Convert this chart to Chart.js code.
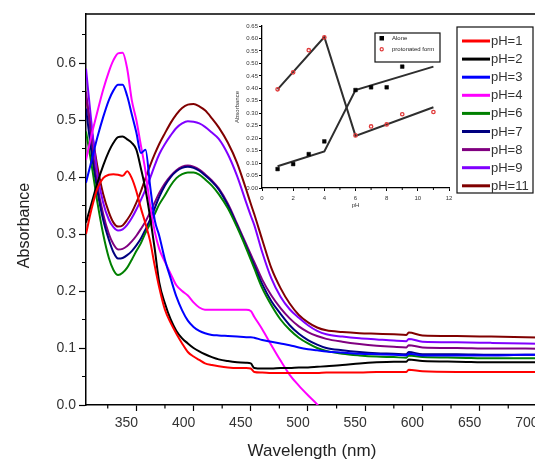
<!DOCTYPE html>
<html>
<head>
<meta charset="utf-8">
<script src="https://cdn.jsdelivr.net/npm/chart.js@4/dist/chart.umd.min.js"></script>
<style>
  html, body { margin: 0; padding: 0; background: #fff; overflow: hidden; }
  #wrap { position: relative; width: 538px; height: 463px; }
  #main { position: absolute; left: 0; top: 0; }
  #inset { position: absolute; left: 232px; top: 20px; }
</style>
</head>
<body>
<div id="wrap">
  <canvas id="main" width="538" height="463"></canvas>
  <canvas id="inset" width="225" height="198"></canvas>
</div>
<script>
// ---- UV-Vis spectra (absorbance vs wavelength, nm) ----
const wavelengths = [306,311,316,321,326,330,334,338,342,346,350,354,358,362,366,370,375,380,385,390,395,400,405,410,416,422,430,438,446,450,453,460,468,476,484,492,500,508,516,530,545,560,575,586,588,600,630,660,690,720];

const absPH1  = [0.300,0.345,0.380,0.398,0.404,0.405,0.404,0.402,0.410,0.398,0.375,0.345,0.318,0.288,0.245,0.206,0.167,0.144,0.125,0.108,0.093,0.085,0.079,0.073,0.070,0.068,0.066,0.065,0.065,0.064,0.058,0.057,0.056,0.056,0.056,0.056,0.056,0.056,0.057,0.057,0.057,0.058,0.058,0.058,0.062,0.059,0.058,0.058,0.058,0.058];
const absPH2  = [0.320,0.355,0.390,0.420,0.445,0.460,0.470,0.471,0.466,0.460,0.448,0.415,0.378,0.330,0.275,0.215,0.178,0.150,0.130,0.117,0.108,0.100,0.094,0.089,0.084,0.080,0.077,0.075,0.074,0.073,0.065,0.064,0.064,0.065,0.065,0.066,0.066,0.067,0.068,0.070,0.073,0.075,0.076,0.076,0.080,0.077,0.076,0.075,0.075,0.075];
const absPH3  = [0.390,0.430,0.470,0.505,0.535,0.552,0.562,0.562,0.542,0.510,0.478,0.442,0.448,0.385,0.325,0.297,0.255,0.222,0.190,0.166,0.148,0.137,0.130,0.126,0.123,0.122,0.121,0.120,0.119,0.119,0.118,0.114,0.111,0.108,0.105,0.101,0.098,0.096,0.094,0.092,0.090,0.089,0.088,0.087,0.090,0.087,0.087,0.087,0.088,0.088];
const absPH4  = [0.430,0.475,0.515,0.553,0.585,0.605,0.617,0.618,0.590,0.535,0.500,0.455,0.410,0.350,0.305,0.274,0.251,0.230,0.210,0.200,0.192,0.180,0.171,0.167,0.167,0.167,0.167,0.167,0.167,0.165,0.155,0.133,0.105,0.078,0.053,0.034,0.017,0.001,-0.020,-0.050,null,null,null,null,null,null,null,null,null,null];
const absPH6  = [0.480,0.420,0.355,0.300,0.258,0.237,0.228,0.232,0.241,0.255,0.270,0.284,0.302,0.318,0.335,0.352,0.368,0.385,0.398,0.405,0.408,0.408,0.404,0.396,0.385,0.370,0.345,0.312,0.275,0.255,0.240,0.205,0.175,0.150,0.132,0.118,0.108,0.100,0.095,0.090,0.087,0.085,0.084,0.083,0.087,0.084,0.083,0.082,0.082,0.082];
const absPH7  = [0.520,0.440,0.375,0.325,0.290,0.268,0.257,0.258,0.263,0.270,0.280,0.292,0.308,0.325,0.345,0.365,0.385,0.400,0.410,0.416,0.418,0.416,0.411,0.403,0.392,0.378,0.350,0.315,0.278,0.259,0.245,0.212,0.182,0.160,0.140,0.125,0.114,0.106,0.100,0.096,0.093,0.091,0.090,0.089,0.093,0.089,0.089,0.088,0.088,0.088];
const absPH8  = [0.550,0.460,0.385,0.335,0.300,0.282,0.273,0.274,0.279,0.287,0.297,0.309,0.322,0.338,0.355,0.372,0.389,0.402,0.412,0.418,0.420,0.418,0.413,0.405,0.394,0.380,0.353,0.318,0.282,0.264,0.251,0.220,0.192,0.170,0.152,0.138,0.128,0.121,0.116,0.111,0.107,0.104,0.102,0.101,0.105,0.101,0.100,0.099,0.099,0.098];
const absPH9  = [0.590,0.490,0.405,0.355,0.325,0.312,0.306,0.308,0.316,0.328,0.343,0.360,0.378,0.398,0.420,0.440,0.458,0.473,0.486,0.494,0.498,0.497,0.494,0.488,0.478,0.467,0.440,0.402,0.355,0.332,0.316,0.268,0.222,0.190,0.168,0.153,0.140,0.130,0.124,0.120,0.117,0.115,0.113,0.112,0.116,0.111,0.110,0.109,0.108,0.107];
const absPH11 = [0.540,0.480,0.418,0.370,0.338,0.320,0.313,0.315,0.325,0.338,0.355,0.375,0.398,0.420,0.440,0.458,0.477,0.495,0.510,0.521,0.527,0.528,0.524,0.517,0.503,0.487,0.460,0.425,0.378,0.353,0.335,0.290,0.240,0.205,0.178,0.158,0.145,0.136,0.131,0.128,0.126,0.125,0.124,0.123,0.127,0.122,0.121,0.120,0.119,0.118];

const seriesLabels = ['pH=1','pH=2','pH=3','pH=4','pH=6','pH=7','pH=8','pH=9','pH=11'];
const seriesValues = [absPH1, absPH2, absPH3, absPH4, absPH6, absPH7, absPH8, absPH9, absPH11];
const seriesColors = ['#ff0000','#000000','#0000ff','#ff00ff','#008000','#000080','#800080','#8000ff','#800000'];

const xTickValues = [350,400,450,500,550,600,650,700];
const xMinorTicks = [325,375,425,475,525,575,625,675];
const yTickValues = [0.0,0.1,0.2,0.3,0.4,0.5,0.6];
const yMinorTicks = [0.05,0.15,0.25,0.35,0.45,0.55,0.65];
const yAxisTitle = 'Absorbance';

// ---- inset: absorbance vs pH ----
const insetPHAlone  = [1,2,3,4,6,7,8,9];
const insetAbsAlone = [0.076,0.096,0.136,0.187,0.393,0.404,0.404,0.487];
const insetPHProt   = [1,2,3,4,6,7,8,9,11];
const insetAbsProt  = [0.396,0.464,0.553,0.604,0.211,0.247,0.255,0.296,0.305];
const fitPHAlone    = [1,4,6,11];
const fitAbsAlone   = [0.087,0.147,0.393,0.487];
const fitPHProt     = [1,4,6,11];
const fitAbsProt    = [0.396,0.606,0.209,0.324];
const insetXTicks   = [0,2,4,6,8,10,12];
const insetXMinor   = [1,3,5,7,9,11];
const insetYTicks   = [0,0.05,0.10,0.15,0.20,0.25,0.30,0.35,0.40,0.45,0.50,0.55,0.60,0.65];
const insetLabels   = ['Alone','protonated form'];

const FONT = "'Liberation Sans', Arial, Helvetica, sans-serif";
const pts = (xs, ys) => xs.map((x, i) => ({ x: x, y: ys[i] }));

// minor ticks, frame lines and the vertical axis title
const frameAndMinor = {
  id: 'frameAndMinor',
  afterDraw(chart) {
    const { ctx, chartArea: a, scales: { x, y } } = chart;
    ctx.save();
    ctx.strokeStyle = '#000';
    ctx.lineWidth = 1.2;
    ctx.beginPath();
    xMinorTicks.forEach(v => { const px = x.getPixelForValue(v); ctx.moveTo(px, a.bottom); ctx.lineTo(px, a.bottom + 3.5); });
    yMinorTicks.forEach(v => { const py = y.getPixelForValue(v); ctx.moveTo(a.left, py); ctx.lineTo(a.left - 4, py); });
    ctx.stroke();
    ctx.lineWidth = 1.5;
    ctx.beginPath();
    ctx.moveTo(a.left, a.top); ctx.lineTo(a.right, a.top);
    ctx.moveTo(a.right - 0.75, a.top); ctx.lineTo(a.right - 0.75, a.bottom);
    ctx.stroke();
    // axis title, sitting a little below the middle of the axis
    ctx.translate(25, y.getPixelForValue(0.315));
    ctx.rotate(-Math.PI / 2);
    ctx.font = '16px ' + FONT;
    ctx.fillStyle = '#222';
    ctx.textAlign = 'center';
    ctx.textBaseline = 'middle';
    ctx.fillText(yAxisTitle, 0, 0);
    ctx.restore();
  }
};

// boxed legend in the upper right corner
const boxLegend = {
  id: 'boxLegend',
  afterDraw(chart) {
    const ctx = chart.ctx;
    const bx = 457, by = 27, bw = 76, bh = 166;
    ctx.save();
    ctx.fillStyle = '#fff';
    ctx.fillRect(bx, by, bw, bh);
    ctx.strokeStyle = '#111';
    ctx.lineWidth = 1.2;
    ctx.strokeRect(bx, by, bw, bh);
    ctx.font = '13px ' + FONT;
    ctx.textBaseline = 'middle';
    ctx.textAlign = 'left';
    chart.data.datasets.forEach((ds, i) => {
      const cy = 41 + i * 18.1;
      ctx.strokeStyle = ds.borderColor;
      ctx.lineWidth = 3;
      ctx.beginPath();
      ctx.moveTo(462, cy); ctx.lineTo(490, cy);
      ctx.stroke();
      ctx.fillStyle = '#333';
      ctx.fillText(ds.label, 491, cy + 0.5);
    });
    ctx.restore();
  }
};

new Chart(document.getElementById('main'), {
  type: 'line',
  data: {
    datasets: seriesLabels.map((lab, i) => ({
      label: lab,
      data: pts(wavelengths, seriesValues[i]),
      borderColor: seriesColors[i],
      backgroundColor: seriesColors[i],
      borderWidth: 2,
      pointRadius: 0,
      fill: false,
      cubicInterpolationMode: 'monotone'
    }))
  },
  options: {
    responsive: false,
    animation: false,
    devicePixelRatio: 1,
    layout: { padding: { top: 14, right: 0, bottom: 0, left: 0 } },
    plugins: { legend: { display: false }, tooltip: { enabled: false } },
    scales: {
      x: {
        type: 'linear', min: 306, max: 701,
        afterBuildTicks: s => { s.ticks = xTickValues.map(v => ({ value: v })); },
        afterFit: s => { s.height = 58; s.paddingLeft = 0; s.paddingRight = 0; },
        grid: { drawOnChartArea: false, drawTicks: true, tickLength: 6, tickWidth: 1.2, tickColor: '#000' },
        border: { display: true, color: '#000', width: 1.5 },
        ticks: { font: { family: FONT, size: 14 }, color: '#333', padding: 4, labelOffset: -10, maxRotation: 0, autoSkip: false, callback: v => String(v) },
        title: { display: true, text: 'Wavelength (nm)', font: { family: FONT, size: 17 }, color: '#222', padding: { top: 0, bottom: 1 } }
      },
      y: {
        type: 'linear', min: 0, max: 0.686,
        afterBuildTicks: s => { s.ticks = yTickValues.map(v => ({ value: v })); },
        afterFit: s => { s.width = 86; s.paddingTop = 0; s.paddingBottom = 0; },
        grid: { drawOnChartArea: false, drawTicks: true, tickLength: 7, tickWidth: 1.2, tickColor: '#000' },
        border: { display: true, color: '#000', width: 1.5 },
        ticks: { font: { family: FONT, size: 14 }, color: '#333', padding: 3, autoSkip: false, callback: v => v.toFixed(1) },
        title: { display: false }
      }
    }
  },
  plugins: [frameAndMinor, boxLegend]
});

// inset legend and minor ticks
const insetExtras = {
  id: 'insetExtras',
  afterDraw(chart) {
    const { ctx, chartArea: a, scales: { x } } = chart;
    ctx.save();
    ctx.strokeStyle = '#000';
    ctx.lineWidth = 1;
    ctx.beginPath();
    insetXMinor.forEach(v => { const px = x.getPixelForValue(v); ctx.moveTo(px, a.bottom); ctx.lineTo(px, a.bottom + 2); });
    ctx.stroke();
    // legend box
    const bx = 143, by = 13, bw = 65, bh = 29;
    ctx.fillStyle = '#fff';
    ctx.fillRect(bx, by, bw, bh);
    ctx.lineWidth = 1.2;
    ctx.strokeStyle = '#111';
    ctx.strokeRect(bx, by, bw, bh);
    ctx.fillStyle = '#000';
    ctx.fillRect(147.5, 16, 4.5, 4.5);
    ctx.strokeStyle = '#e03a3a';
    ctx.lineWidth = 1.2;
    ctx.beginPath();
    ctx.arc(149.7, 29.3, 1.6, 0, Math.PI * 2);
    ctx.stroke();
    ctx.font = '6px ' + FONT;
    ctx.fillStyle = '#222';
    ctx.textBaseline = 'middle';
    ctx.fillText(insetLabels[0], 160, 18.5);
    ctx.fillText(insetLabels[1], 160, 29.5);
    ctx.restore();
  }
};

new Chart(document.getElementById('inset'), {
  type: 'scatter',
  data: {
    datasets: [
      { label: insetLabels[0], data: pts(insetPHAlone, insetAbsAlone), pointStyle: 'rect', pointRadius: 2.6, backgroundColor: '#000', borderColor: '#000', borderWidth: 0.5, order: 0 },
      { label: insetLabels[1], data: pts(insetPHProt, insetAbsProt), pointStyle: 'circle', pointRadius: 1.7, backgroundColor: 'rgba(255,255,255,0)', borderColor: '#e03a3a', borderWidth: 1.3, order: 0 },
      { label: 'fit alone', data: pts(fitPHAlone, fitAbsAlone), showLine: true, pointRadius: 0, borderColor: '#2e2e2e', borderWidth: 2, tension: 0, order: 1 },
      { label: 'fit protonated', data: pts(fitPHProt, fitAbsProt), showLine: true, pointRadius: 0, borderColor: '#2e2e2e', borderWidth: 2, tension: 0, order: 1 }
    ]
  },
  options: {
    responsive: false,
    animation: false,
    devicePixelRatio: 1,
    layout: { padding: { top: 6, right: 8, bottom: 0, left: 0 } },
    plugins: { legend: { display: false }, tooltip: { enabled: false } },
    scales: {
      x: {
        type: 'linear', min: 0, max: 12,
        afterBuildTicks: s => { s.ticks = insetXTicks.map(v => ({ value: v })); },
        afterFit: s => { s.height = 30; s.paddingLeft = 0; s.paddingRight = 0; },
        grid: { drawOnChartArea: false, drawTicks: true, tickLength: 3, tickWidth: 1, tickColor: '#000' },
        border: { display: true, color: '#000', width: 1.3 },
        ticks: { font: { family: FONT, size: 6 }, color: '#333', padding: 4, maxRotation: 0, autoSkip: false, callback: v => String(v) },
        title: { display: true, text: 'pH', font: { family: FONT, size: 6 }, color: '#333', padding: { top: 0, bottom: 9 } }
      },
      y: {
        type: 'linear', min: 0, max: 0.65,
        afterBuildTicks: s => { s.ticks = insetYTicks.map(v => ({ value: v })); },
        afterFit: s => { s.width = 30; s.paddingTop = 0; s.paddingBottom = 0; },
        grid: { drawOnChartArea: false, drawTicks: true, tickLength: 3, tickWidth: 1, tickColor: '#000' },
        border: { display: true, color: '#000', width: 1.3 },
        ticks: { font: { family: FONT, size: 6 }, color: '#333', padding: 1, autoSkip: false, callback: v => v.toFixed(2) },
        title: { display: true, text: 'Absorbance', font: { family: FONT, size: 6 }, color: '#333', padding: { top: 1.5, bottom: 0 } }
      }
    }
  },
  plugins: [insetExtras]
});
</script>
</body>
</html>
